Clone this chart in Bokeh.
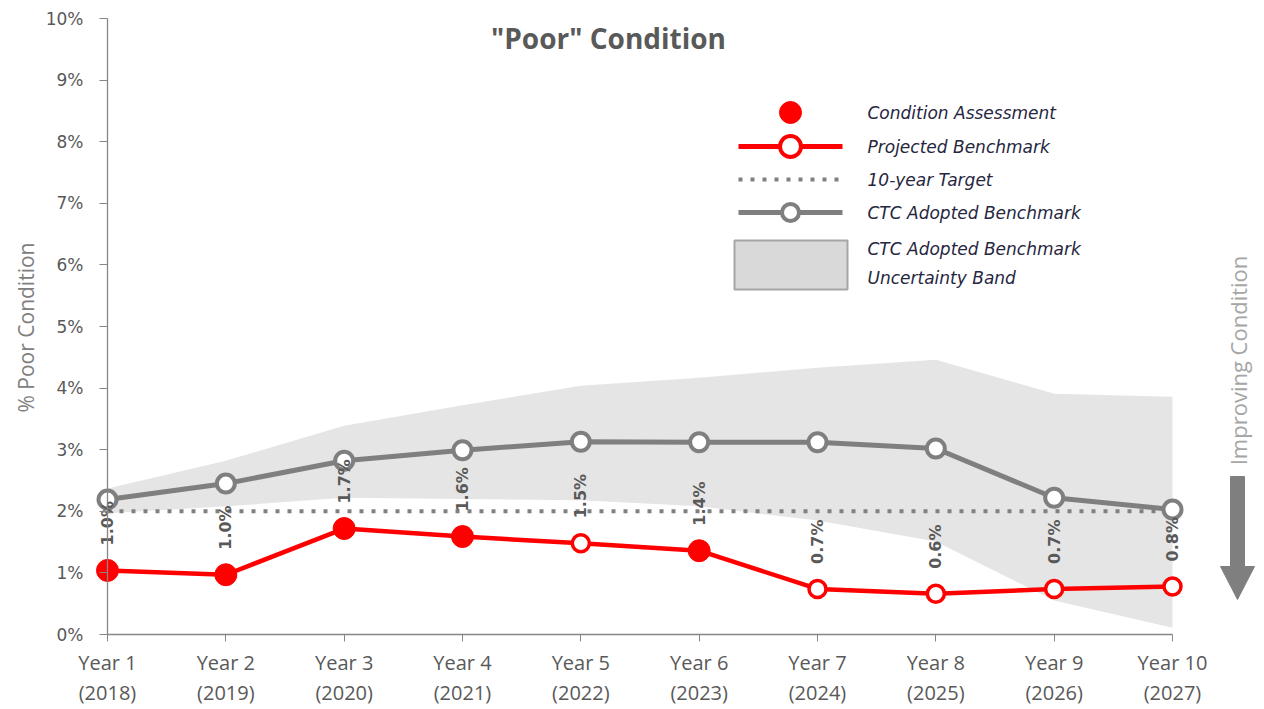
import math
from bokeh.plotting import figure
from bokeh.models import Range1d, FixedTicker, Label
from bokeh.core.properties import value
from bokeh.embed import file_html
from bokeh.resources import INLINE

# ---------------- data ----------------
years = [1, 2, 3, 4, 5, 6, 7, 8, 9, 10]
x_tick_labels = ["Year 1\n(2018)", "Year 2\n(2019)", "Year 3\n(2020)", "Year 4\n(2021)",
                 "Year 5\n(2022)", "Year 6\n(2023)", "Year 7\n(2024)", "Year 8\n(2025)",
                 "Year 9\n(2026)", "Year 10\n(2027)"]
y_ticks = [0, 1, 2, 3, 4, 5, 6, 7, 8, 9, 10]
y_tick_labels = ["0%", "1%", "2%", "3%", "4%", "5%", "6%", "7%", "8%", "9%", "10%"]

projected_benchmark = [1.04, 0.97, 1.72, 1.59, 1.48, 1.36, 0.74, 0.66, 0.74, 0.78]
assessed = [True, True, True, True, False, True, False, False, False, False]
value_labels = ["1.0%", "1.0%", "1.7%", "1.6%", "1.5%", "1.4%", "0.7%", "0.6%", "0.7%", "0.8%"]
ctc_benchmark = [2.19, 2.45, 2.82, 2.99, 3.13, 3.12, 3.12, 3.02, 2.22, 2.03]
band_upper = [2.37, 2.82, 3.39, 3.72, 4.04, 4.17, 4.33, 4.46, 3.91, 3.86]
band_lower = [1.97, 2.08, 2.22, 2.20, 2.18, 2.08, 1.85, 1.51, 0.55, 0.11]
target_10yr = 2.0

legend_labels = ["Condition Assessment", "Projected Benchmark", "10-year Target",
                 "CTC Adopted Benchmark", "CTC Adopted Benchmark", "Uncertainty Band"]

# ---------------- layout (canvas pixels) ----------------
FIG_W, FIG_H = 1264, 709
X_FIRST_PX, X_LAST_PX = 107, 1172
Y_ZERO_PX, Y_TOP_PX = 634, 18
step = (X_LAST_PX - X_FIRST_PX) / (len(years) - 1)
unit_y = (Y_ZERO_PX - Y_TOP_PX) / (y_ticks[-1] - y_ticks[0])


def px_x(px):
    return years[0] + (px - X_FIRST_PX) / step


def px_y(py):
    return (Y_ZERO_PX - py) / unit_y


GRAY = "#7f7f7f"
RED = "#ff0000"
TXT = "#595959"

p = figure(width=FIG_W, height=FIG_H, output_backend="svg", toolbar_location=None,
           x_range=Range1d(px_x(0), px_x(FIG_W)),
           y_range=Range1d(px_y(FIG_H), px_y(0)),
           min_border_left=0, min_border_right=0,
           min_border_top=0, min_border_bottom=0)
p.grid.visible = False
p.outline_line_color = None
p.background_fill_color = "white"
p.border_fill_color = "white"

# axes
p.yaxis.fixed_location = years[0]
p.yaxis.bounds = (y_ticks[0], y_ticks[-1])
p.yaxis.ticker = FixedTicker(ticks=y_ticks)
p.yaxis.major_label_overrides = dict(zip(y_ticks, y_tick_labels))
p.yaxis.axis_line_color = "#868686"
p.yaxis.axis_line_width = 1.3
p.yaxis.major_tick_line_color = "#868686"
p.yaxis.major_tick_out = 8
p.yaxis.major_tick_in = 0
p.yaxis.minor_tick_line_color = None
p.yaxis.major_label_standoff = 16
p.yaxis.major_label_text_font = "DejaVu Sans"
p.yaxis.major_label_text_font_size = "17px"
p.yaxis.major_label_text_color = TXT

p.xaxis.fixed_location = y_ticks[0]
p.xaxis.bounds = (years[0], years[-1])
p.xaxis.ticker = FixedTicker(ticks=years)
p.xaxis.major_label_overrides = dict(zip(years, x_tick_labels))
p.xaxis.axis_line_color = "#868686"
p.xaxis.axis_line_width = 1.3
p.xaxis.major_tick_line_color = "#868686"
p.xaxis.major_tick_out = 7
p.xaxis.major_tick_in = 0
p.xaxis.minor_tick_line_color = None
p.xaxis.major_label_standoff = 7
p.xaxis.major_label_text_font = "Open Sans"
p.xaxis.major_label_text_font_size = "20px"
p.xaxis.major_label_text_line_height = 1.13
p.xaxis.major_label_text_color = TXT

# uncertainty band
p.varea(x=years, y1=band_lower, y2=band_upper, fill_color="#e5e5e5")

# 10-year target
p.line(x=[years[0], years[-1]], y=[target_10yr, target_10yr], line_color="#808080",
       line_width=4, line_dash="4 8")

# CTC adopted benchmark
p.line(x=years, y=ctc_benchmark, line_color=GRAY, line_width=5)
p.scatter(x=years, y=ctc_benchmark, size=18, fill_color="white", line_color=GRAY, line_width=4)

# projected benchmark / condition assessment
p.line(x=years, y=projected_benchmark, line_color=RED, line_width=4.5)
ax = [x for x, a in zip(years, assessed) if a]
ay = [v for v, a in zip(projected_benchmark, assessed) if a]
ox = [x for x, a in zip(years, assessed) if not a]
oy = [v for v, a in zip(projected_benchmark, assessed) if not a]
p.scatter(x=ax, y=ay, size=22, fill_color=RED, line_color=RED, line_width=1)
p.scatter(x=ox, y=oy, size=17, fill_color="white", line_color=RED, line_width=3.5)

# value labels
p.text(x=years, y=projected_benchmark, text=value_labels, angle=math.pi / 2,
       text_align="left", text_baseline="middle", y_offset=-25,
       text_font=value("DejaVu Sans"), text_font_style="bold",
       text_font_size="16px", text_color=TXT)

# ---------------- legend ----------------
LX0, LX1, LMID = 738, 842, 790
rows = [112, 146, 179, 212, 248, 277]
p.scatter(x=[px_x(LMID)], y=[px_y(rows[0])], size=22, fill_color=RED, line_color=RED)
p.line(x=[px_x(LX0), px_x(LX1)], y=[px_y(rows[1])] * 2, line_color=RED, line_width=5)
p.scatter(x=[px_x(LMID)], y=[px_y(rows[1])], size=21, fill_color="white",
          line_color=RED, line_width=4)
p.line(x=[px_x(LX0), px_x(LX1)], y=[px_y(rows[2])] * 2, line_color="#808080",
       line_width=4, line_dash="4 8")
p.line(x=[px_x(LX0), px_x(LX1)], y=[px_y(rows[3])] * 2, line_color=GRAY, line_width=5)
p.scatter(x=[px_x(LMID)], y=[px_y(rows[3])], size=17, fill_color="white",
          line_color=GRAY, line_width=4)
p.quad(left=px_x(734), right=px_x(847), top=px_y(240), bottom=px_y(289),
       fill_color="#d9d9d9", line_color="#a6a6a6", line_width=2)
p.text(x=[px_x(867)] * len(rows), y=[px_y(r) for r in rows], text=legend_labels,
       text_align="left", text_baseline="middle",
       text_font=value("DejaVu Sans"), text_font_style="italic",
       text_font_size="17px", text_color="#262640")

# ---------------- improving condition arrow ----------------
ACX = 1237
p.patch(x=[px_x(v) for v in [ACX - 7, ACX + 7, ACX + 7, ACX + 17, ACX, ACX - 17, ACX - 7]],
        y=[px_y(v) for v in [476, 476, 566, 566, 599, 566, 566]],
        fill_color="#7f7f7f", line_color="#7f7f7f", line_width=1)
p.add_layout(Label(x=px_x(ACX), y=px_y(360), text="Improving Condition",
                   angle=math.pi / 2, text_align="center", text_baseline="middle",
                   text_font="Open Sans", text_font_size="22px", text_color="#a6a6a6"))

# title and y-axis title
p.add_layout(Label(x=px_x(608), y=px_y(37), text='"Poor" Condition',
                   text_align="center", text_baseline="middle",
                   text_font="Open Sans", text_font_style="bold",
                   text_font_size="28px", text_color=TXT))
p.add_layout(Label(x=px_x(25), y=px_y(327), text="% Poor Condition",
                   angle=math.pi / 2, text_align="center", text_baseline="middle",
                   text_font="Open Sans", text_font_size="21px", text_color="#808080"))

open("out.html", "w").write(file_html(p, INLINE))
